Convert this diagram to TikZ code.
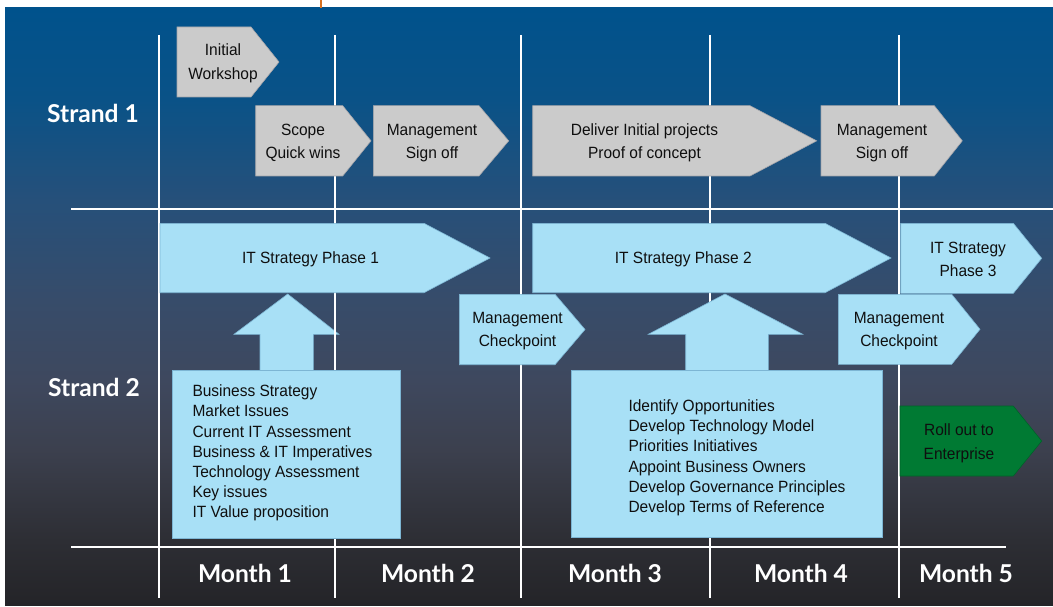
\documentclass[tikz,border=0pt]{standalone}
\usepackage{fontspec}
\setmainfont{Liberation Sans}[FakeStretch=0.95]
\newfontfamily\headfont{Lato}
\definecolor{c0}{RGB}{36,36,40}
\definecolor{c1}{RGB}{45,46,52}
\definecolor{c2}{RGB}{60,64,78}
\definecolor{c3}{RGB}{62,72,94}
\definecolor{c4}{RGB}{55,76,106}
\definecolor{c5}{RGB}{38,80,122}
\definecolor{c6}{RGB}{10,82,135}
\definecolor{c7}{RGB}{0,82,140}
\pgfdeclareverticalshading{bgshade}{100bp}{color(0bp)=(c0); color(25bp)=(c0); color(30.4bp)=(c1); color(38bp)=(c2); color(43.8bp)=(c3); color(50.5bp)=(c4); color(58.9bp)=(c5); color(67.3bp)=(c6); color(75bp)=(c7); color(100bp)=(c7)}
\definecolor{sky}{RGB}{168,224,246}
\definecolor{skyedge}{RGB}{125,182,212}
\definecolor{greyfill}{RGB}{203,203,203}
\definecolor{greyedge}{RGB}{165,165,170}
\definecolor{rollgreen}{RGB}{0,122,51}
\definecolor{tickorange}{RGB}{214,112,32}
\definecolor{ink}{RGB}{15,15,15}
\newcommand\chev[6]{\path[#1] (#2,#3) -- (#4,#3) -- (#5,{(#3+#6)/2}) -- (#4,#6) -- (#2,#6) -- cycle;}
\begin{document}
\begin{tikzpicture}[x=1pt,y=-1pt,
  lbl/.style={font=\fontsize{16.3}{23.5}\selectfont, text=ink, align=center, inner sep=0},
  lst/.style={font=\fontsize{16.3}{20.2}\selectfont, text=ink, align=left, inner sep=0, anchor=west},
  head/.style={font=\headfont\bfseries\fontsize{24.6}{27}\selectfont, text=white, inner sep=0, text height=17.6pt, text depth=0pt},
  gridline/.style={white, line width=2.6pt},
  greyshape/.style={fill=greyfill, draw=greyedge, line width=0.6pt},
  skyshape/.style={fill=sky, draw=skyedge, line width=0.6pt},
  greenshape/.style={fill=rollgreen, draw=rollgreen!80!black, line width=0.6pt}]
\useasboundingbox (0,0) rectangle (1053,607);
\fill[white] (0,0) rectangle (1053,607);
\shade[shading=bgshade] (5,8) rectangle (1053,605);
\fill[tickorange] (319.5,0) rectangle (321.5,8);
% up arrow 1 (under the grid)
\path[skyshape] (287.7,294) -- (339,334.3) -- (313.3,334.3) -- (313.3,372) -- (260,372) -- (260,334.3) -- (234,334.3) -- cycle;
% grid
\foreach \x in {159,335,521,710,899} \draw[gridline] (\x,35) -- (\x,598);
\draw[gridline] (71,209) -- (1053,209);
\draw[gridline] (71,547) -- (1006,547);
% box 1
\path[skyshape] (172.7,370) rectangle (400.7,538.3);
\node[lst] (list1) at (192.3,453) {Business Strategy\\Market Issues\\Current IT Assessment\\Business \& IT Imperatives\\Technology Assessment\\Key issues\\IT Value proposition};
% up arrow 2 and box 2
\path[skyshape] (725,294) -- (802.7,334.3) -- (768.3,334.3) -- (768.3,372) -- (685.7,372) -- (685.7,334.3) -- (648.3,334.3) -- cycle;
\path[skyshape] (571,370) rectangle (882.7,537.7);
\node[lst] (list2) at (628.3,457.7) {Identify Opportunities\\Develop Technology Model\\Priorities Initiatives\\Appoint Business Owners\\Develop Governance Principles\\Develop Terms of Reference};
% strand 1
\chev{greyshape}{177}{27}{251}{279}{97}
\chev{greyshape}{255.7}{105.7}{342.7}{371}{176}
\chev{greyshape}{373.3}{105.7}{479}{508.7}{176}
\chev{greyshape}{532.7}{105.7}{750}{816.7}{176}
\chev{greyshape}{821}{105.7}{934.3}{962.3}{176}
\node[lbl] (iw) at (223,63.5) {Initial\\Workshop};
\node[lbl] (sq) at (303,143) {Scope\\Quick wins};
\node[lbl] (ms1) at (432,143) {Management\\Sign off};
\node[lbl] (dip) at (644.5,143) {Deliver Initial projects\\Proof of concept};
\node[lbl] (ms2) at (882,143) {Management\\Sign off};
% strand 2
\chev{skyshape}{160}{223.3}{424}{490}{292.7}
\chev{skyshape}{459.3}{294.3}{555}{585}{364.7}
\chev{skyshape}{532.7}{223.3}{825}{891}{292.7}
\chev{skyshape}{900.7}{223.3}{1013.3}{1041.7}{293.3}
\chev{skyshape}{838.3}{294.3}{951.7}{980}{364.3}
\chev{greenshape}{900}{406}{1013.3}{1041.7}{476}
\node[lbl] (p1) at (310.5,259.5) {IT Strategy Phase 1};
\node[lbl] (p2) at (683.3,259.5) {IT Strategy Phase 2};
\node[lbl] (p3) at (968,259.5) {IT Strategy\\Phase 3};
\node[lbl] (mc1) at (517.5,331) {Management\\Checkpoint};
\node[lbl] (mc2) at (899,331) {Management\\Checkpoint};
\node[lbl] (ro) at (959,443.5) {Roll out to\\Enterprise};
% labels
\node[head] (s1) at (93,113.3) {Strand 1};
\node[head] (s2) at (94,388) {Strand 2};
\node[head] (m1) at (245,573.3) {Month 1};
\node[head] (m2) at (428,573.3) {Month 2};
\node[head] (m3) at (615,573.3) {Month 3};
\node[head] (m4) at (801,573.3) {Month 4};
\node[head] (m5) at (966,573.3) {Month 5};
\end{tikzpicture}
\end{document}
